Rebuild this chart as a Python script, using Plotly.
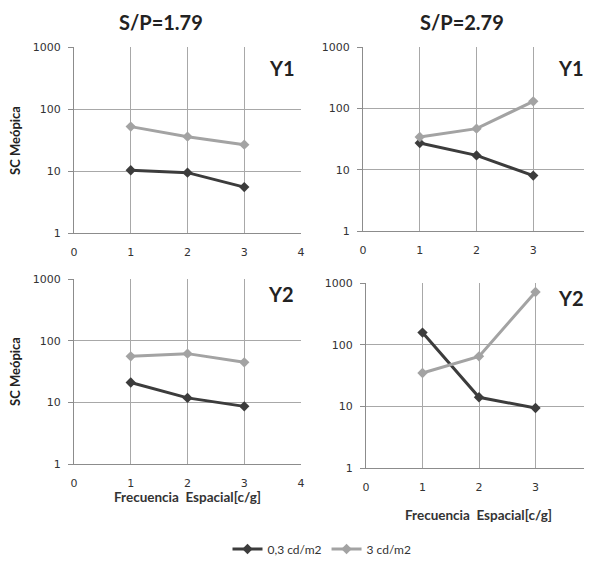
import plotly.graph_objects as go

freq = [1, 2, 3]
series_names = ["0,3 cd/m2", "3 cd/m2"]
# S/P=1.79, Y1
sp179_y1_low = [10.3, 9.4, 5.5]
sp179_y1_high = [52, 35.8, 26.6]
# S/P=2.79, Y1
sp279_y1_low = [27.2, 17.1, 8.0]
sp279_y1_high = [34, 46.6, 130]
# S/P=1.79, Y2
sp179_y2_low = [21, 11.8, 8.6]
sp179_y2_high = [55.7, 61.6, 44.5]
# S/P=2.79, Y2
sp279_y2_low = [157, 14, 9.4]
sp279_y2_high = [34.7, 64.6, 714]

col_titles = ["S/P=1.79", "S/P=2.79"]
row_labels = ["Y1", "Y2"]
y_title = "SC Meópica"
x_title = "Frecuencia  Espacial[c/g]"

dark = "#3c3c3c"
light = "#a3a3a3"
W, H = 592, 562
OFF = 8  # page body margin


def fx(p):
    return (p - OFF) / W


def fy(p):
    return 1 - (p - OFF) / H


panels = [
    ("", (74, 301), (47, 233), sp179_y1_low, sp179_y1_high),
    ("2", (363, 590), (47, 231), sp279_y1_low, sp279_y1_high),
    ("3", (74, 301), (279, 464), sp179_y2_low, sp179_y2_high),
    ("4", (366, 592), (283, 468), sp279_y2_low, sp279_y2_high),
]

fig = go.Figure()
layout = {}
for i, (sid, xd, yd, low, high) in enumerate(panels):
    xa = "x" + sid
    ya = "y" + sid
    fig.add_trace(go.Scatter(
        x=freq, y=low, mode="lines+markers", name=series_names[0],
        line=dict(color=dark, width=3), marker=dict(symbol="diamond", size=8, color=dark),
        xaxis=xa, yaxis=ya, showlegend=(i == 0), legendgroup="a", cliponaxis=False))
    fig.add_trace(go.Scatter(
        x=freq, y=high, mode="lines+markers", name=series_names[1],
        line=dict(color=light, width=3), marker=dict(symbol="diamond", size=8, color=light),
        xaxis=xa, yaxis=ya, showlegend=(i == 0), legendgroup="b", cliponaxis=False))
    layout["xaxis" + sid] = dict(
        domain=[fx(xd[0]), fx(xd[1])], anchor=ya, range=[0, 4], tickvals=[0, 1, 2, 3, 4],
        showgrid=True, gridcolor="#a8a8a8", gridwidth=1,
        showline=True, linecolor="#8c8c8c", linewidth=1,
        ticks="", zeroline=False, automargin=False, ticklabelstandoff=9,
        tickfont=dict(family="DejaVu Sans", size=11, color="#333333"),
    )
    layout["yaxis" + sid] = dict(
        domain=[fy(yd[1]), fy(yd[0])], anchor=xa, type="log", range=[0, 3],
        tickvals=[1, 10, 100, 1000], ticktext=["1", "10", "100", "1000"],
        showgrid=True, gridcolor="#a8a8a8", gridwidth=1,
        showline=True, linecolor="#8c8c8c", linewidth=1,
        ticks="outside", ticklen=5, tickcolor="#8c8c8c",
        zeroline=False, automargin=False, ticklabelstandoff=5,
        tickfont=dict(family="DejaVu Sans", size=11, color="#333333"),
    )

annotations = []
for txt, xc in [(col_titles[0], 161), (col_titles[1], 462)]:
    annotations.append(dict(text="<b>" + txt + "</b>", x=fx(xc), y=fy(22), xref="paper", yref="paper",
                            xanchor="center", yanchor="middle", showarrow=False,
                            font=dict(family="Lato", size=20, color="#222222")))
for lab, xr, yc in [(row_labels[0], 297, 68), (row_labels[0], 586, 68),
                    (row_labels[1], 296, 294), (row_labels[1], 586, 298)]:
    annotations.append(dict(text="<b>" + lab + "</b>", x=fx(xr), y=fy(yc), xref="paper",
                            yref="paper", xanchor="right", yanchor="middle", showarrow=False,
                            font=dict(family="Lato", size=20, color="#222222")))
for yc in [141, 372]:
    annotations.append(dict(text="<b>" + y_title + "</b>", x=fx(15), y=fy(yc), xref="paper", yref="paper",
                            xanchor="center", yanchor="middle",
                            textangle=-90, showarrow=False, font=dict(family="Lato", size=13, color="#222222")))
for xc, yc in [(187, 497), (478, 515)]:
    annotations.append(dict(text="<b>" + x_title + "</b>", x=fx(xc), y=fy(yc), xref="paper", yref="paper",
                            xanchor="center", yanchor="middle",
                            showarrow=False, font=dict(family="Lato", size=13.5, color="#333333")))

fig.update_layout(
    width=W, height=H,
    margin=dict(l=0, r=0, t=0, b=0, autoexpand=False),
    paper_bgcolor="white", plot_bgcolor="white",
    annotations=annotations,
    legend=dict(orientation="h", x=fx(322), xanchor="center", y=fy(549), yanchor="middle",
                font=dict(family="Lato", size=12, color="#333333"), itemwidth=30, tracegroupgap=0),
    **layout,
)

fig.write_html("out.html")
